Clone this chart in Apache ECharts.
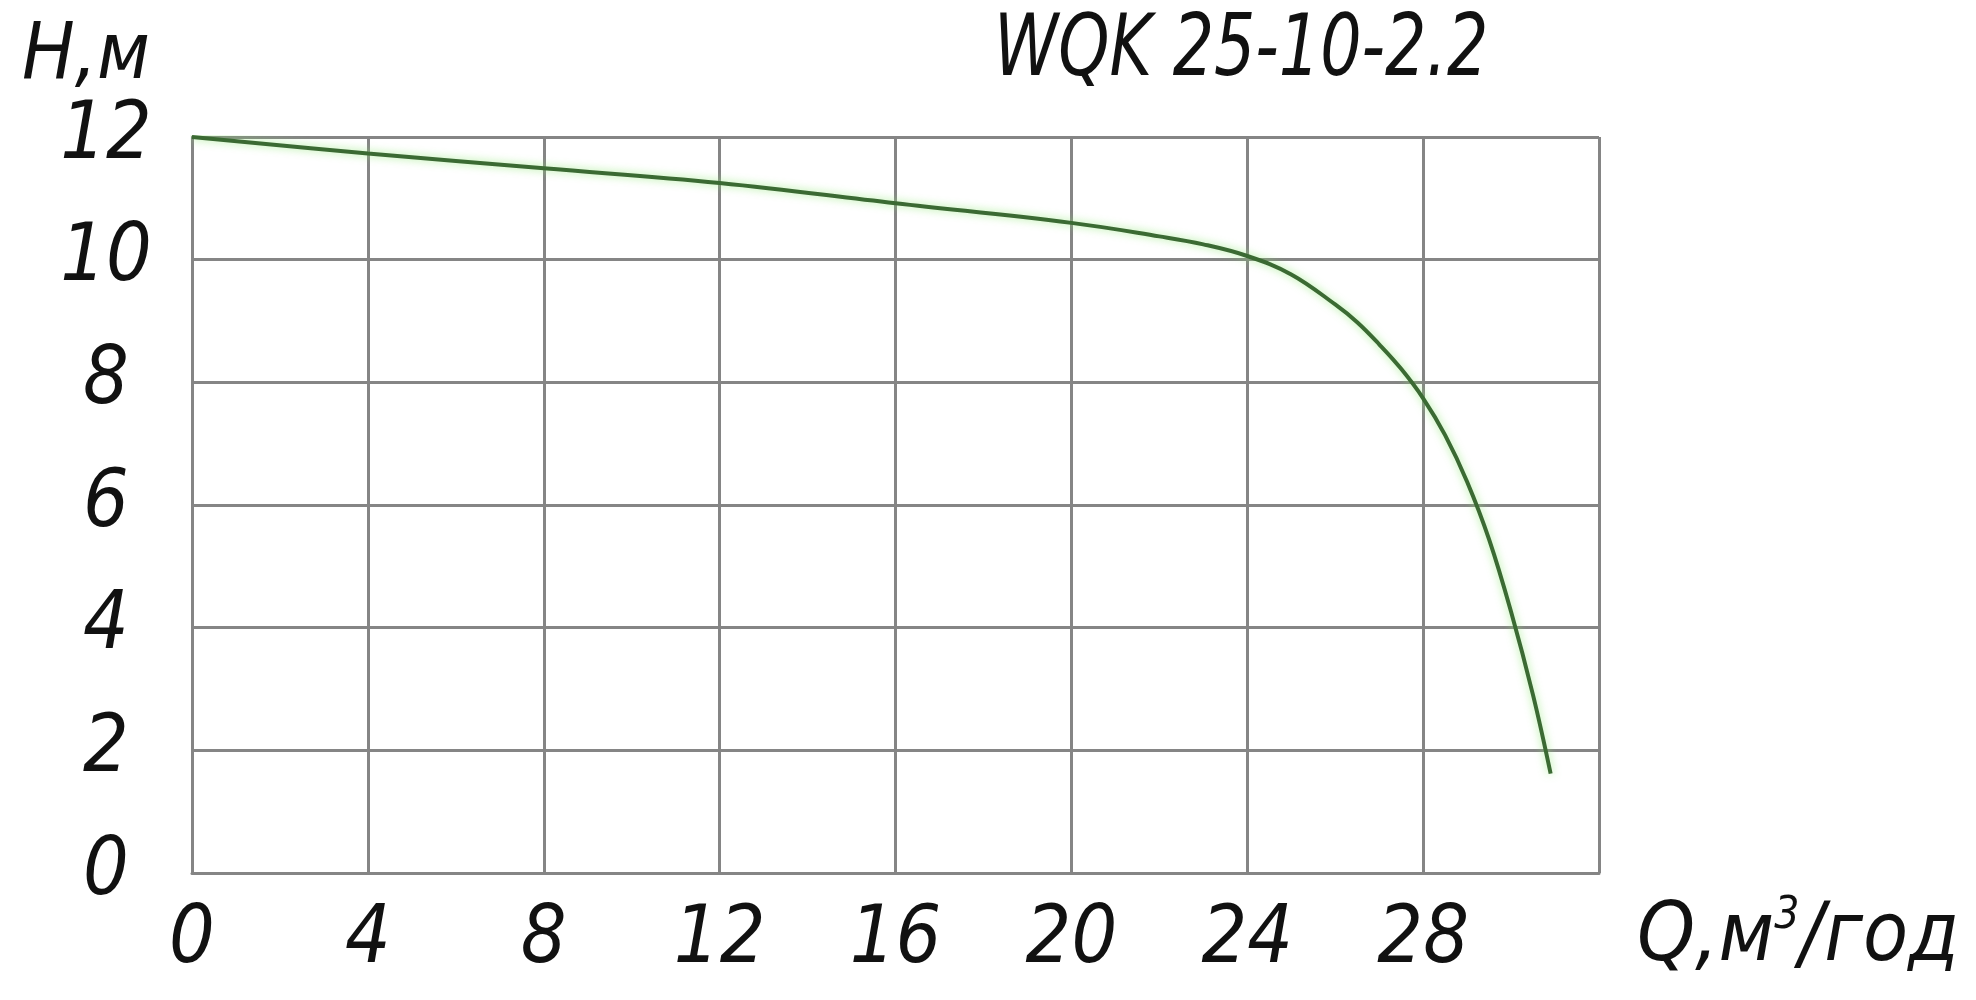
<!DOCTYPE html>
<html>
<head>
<meta charset="utf-8">
<script src="https://cdn.jsdelivr.net/npm/echarts@6/dist/echarts.min.js"></script>
<style>
  html, body { margin: 0; padding: 0; background: #fff; }
  #chart { width: 1976px; height: 1000px; }
</style>
</head>
<body>
<div id="chart"></div>
<script>
// pump curve WQK 25-10-2.2
const flow = [0, 4, 8, 12, 16, 20, 22, 23, 24, 25, 26, 26.5, 27, 27.5, 28, 28.5, 29, 29.5, 30, 30.5, 30.9]
const head = [12.0, 11.73, 11.49, 11.25, 10.92, 10.6, 10.38, 10.25, 10.06, 9.76, 9.27, 8.98, 8.62, 8.22, 7.74, 7.14, 6.38, 5.44, 4.26, 2.9, 1.62]

const title = 'WQK 25-10-2.2'
const yName = 'Н,м'

const font = '"Liberation Sans Narrow", "DejaVu Sans Condensed", "Liberation Sans", sans-serif'
const ink = '#111'
const gridColor = '#858585'

const chart = echarts.init(document.getElementById('chart'), null, { renderer: 'canvas' })

const option = {
  backgroundColor: '#fff',
  animation: false,
  graphic: [{
    type: 'text',
    left: 994,
    top: 10,
    scaleX: 0.84,
    style: {
      text: title,
      font: 'italic 86px ' + font,
      fill: ink
    }
  }],
  grid: {
    left: 192,
    right: 377,
    top: 137,
    bottom: 127
  },
  xAxis: {
    type: 'value',
    min: 0,
    max: 32,
    interval: 4,
    name: '{a|Q,м}{s|3}{a|/год}',
    nameLocation: 'end',
    nameGap: 38,
    nameTextStyle: {
      verticalAlign: 'top',
      padding: [22, 0, 0, 0],
      rich: {
        a: { fontFamily: font, fontStyle: 'italic', fontSize: 82, color: ink },
        s: { fontFamily: font, fontStyle: 'italic', fontSize: 44, color: ink, verticalAlign: 'top', padding: [0, 0, 44, 0] }
      }
    },
    axisLine: { show: true, lineStyle: { color: gridColor, width: 3 } },
    axisTick: { show: false },
    axisLabel: {
      showMaxLabel: false,
      margin: 28,
      fontFamily: font,
      fontStyle: 'italic',
      fontSize: 80,
      color: ink
    },
    splitLine: { show: true, lineStyle: { color: gridColor, width: 3 } }
  },
  yAxis: {
    type: 'value',
    min: 0,
    max: 12,
    interval: 2,
    name: yName,
    nameLocation: 'end',
    nameGap: 40,
    nameTextStyle: {
      fontFamily: font,
      fontStyle: 'italic',
      fontSize: 78,
      color: ink,
      align: 'right',
      padding: [0, 42, 0, 0]
    },
    axisLine: { show: true, lineStyle: { color: gridColor, width: 3 } },
    axisTick: { show: false },
    axisLabel: {
      margin: 86,
      align: 'center',
      fontFamily: font,
      fontStyle: 'italic',
      fontSize: 80,
      color: ink
    },
    splitLine: { show: true, lineStyle: { color: gridColor, width: 3 } }
  },
  series: [{
    type: 'line',
    data: flow.map((q, i) => [q, head[i]]),
    smooth: 0.4,
    showSymbol: false,
    lineStyle: {
      color: '#3b6a33',
      width: 4,
      shadowColor: 'rgba(130, 230, 100, 0.7)',
      shadowBlur: 8
    }
  }]
}

chart.setOption(option)
</script>
</body>
</html>
